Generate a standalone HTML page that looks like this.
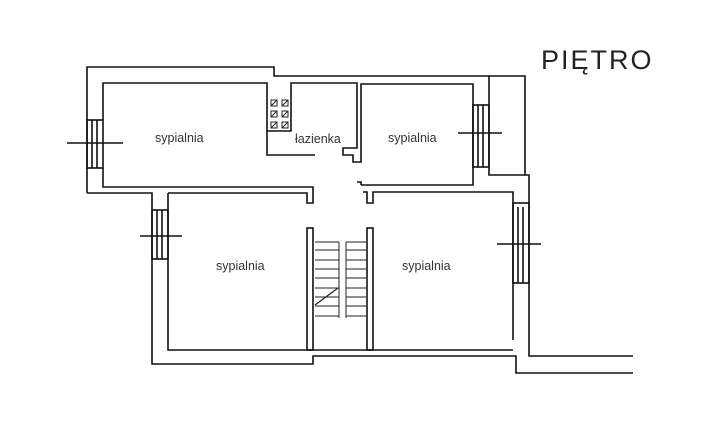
<!DOCTYPE html>
<html><head><meta charset="utf-8"><style>
html,body{margin:0;padding:0;background:#fff}
svg{display:block}
text{font-family:"Liberation Sans",sans-serif}
</style></head><body>
<svg width="710" height="424" viewBox="0 0 710 424" xmlns="http://www.w3.org/2000/svg">
<g fill="none" stroke="#111" stroke-width="1.6" stroke-linejoin="miter">
<polyline points="87,193 87,67 274,67 274,76 489,76 489,175 529,175 529,356 633,356"/>
<polyline points="489,76 525,76 525,175"/>
<polyline points="103,120 103,83 267,83 267,131 291,131 291,83 357,83 357,148 343,148 343,155 353,155 353,162 361,162 361,84 473,84 473,185 361,185"/>
<polyline points="357,182 361,182 361,185"/>
<polyline points="103,168 103,187 313,187 313,203 307,203 307,193 168,193"/>
<polyline points="87,193 152,193 152,364 313,364 313,356 516,356 516,373 633,373"/>
<polyline points="168,193 168,350 513,350"/>
<polyline points="513,340 513,192 373,192 373,203 367,203 367,192 363,192"/>
<polyline points="267,131 267,155 315,155"/>
<rect x="307" y="228" width="6" height="122"/>
<rect x="367" y="228" width="6" height="122"/>
<rect x="87" y="120" width="16" height="48"/>
<line x1="92" y1="120" x2="92" y2="168"/><line x1="97" y1="120" x2="97" y2="168"/>
<line x1="67" y1="143" x2="123" y2="143"/>
<rect x="152" y="210" width="16" height="49"/>
<line x1="157" y1="210" x2="157" y2="259"/><line x1="162" y1="210" x2="162" y2="259"/>
<line x1="140" y1="236" x2="182" y2="236"/>
<rect x="473" y="105" width="16" height="62"/>
<line x1="478" y1="105" x2="478" y2="167"/><line x1="483" y1="105" x2="483" y2="167"/>
<line x1="458" y1="133" x2="502" y2="133"/>
<rect x="513" y="203" width="16" height="80"/>
<line x1="518" y1="207" x2="518" y2="283"/><line x1="523" y1="207" x2="523" y2="283"/>
<line x1="497" y1="244" x2="541" y2="244"/>
</g>
<g stroke="#222" stroke-width="1" fill="none">
<line x1="339" y1="242" x2="339" y2="318"/><line x1="346" y1="242" x2="346" y2="318"/>
<line x1="315" y1="242" x2="339" y2="242"/><line x1="346" y1="242" x2="366" y2="242"/>
<line x1="315" y1="250" x2="339" y2="250"/><line x1="346" y1="250" x2="366" y2="250"/>
<line x1="315" y1="260" x2="339" y2="260"/><line x1="346" y1="260" x2="366" y2="260"/>
<line x1="315" y1="269" x2="339" y2="269"/><line x1="346" y1="269" x2="366" y2="269"/>
<line x1="315" y1="278" x2="339" y2="278"/><line x1="346" y1="278" x2="366" y2="278"/>
<line x1="315" y1="288" x2="339" y2="288"/><line x1="346" y1="288" x2="366" y2="288"/>
<line x1="315" y1="297" x2="339" y2="297"/><line x1="346" y1="297" x2="366" y2="297"/>
<line x1="315" y1="306" x2="339" y2="306"/><line x1="346" y1="306" x2="366" y2="306"/>
<line x1="315" y1="316" x2="339" y2="316"/><line x1="346" y1="316" x2="366" y2="316"/>
<line x1="315" y1="305" x2="338" y2="288" stroke-width="1.3"/>
<rect x="271" y="100" width="6" height="6"/><rect x="282" y="100" width="6" height="6"/>
<rect x="271" y="111" width="6" height="6"/><rect x="282" y="111" width="6" height="6"/>
<rect x="271" y="122" width="6" height="6"/><rect x="282" y="122" width="6" height="6"/>
<line x1="271" y1="106" x2="277" y2="100"/><line x1="282" y1="106" x2="288" y2="100"/>
<line x1="271" y1="117" x2="277" y2="111"/><line x1="282" y1="117" x2="288" y2="111"/>
<line x1="271" y1="128" x2="277" y2="122"/><line x1="282" y1="128" x2="288" y2="122"/>
</g>
<g fill="#333" font-size="12.5">
<text x="155" y="142">sypialnia</text>
<text x="295" y="143">łazienka</text>
<text x="388" y="142">sypialnia</text>
<text x="216" y="270">sypialnia</text>
<text x="402" y="270">sypialnia</text>
</g>
<text x="541" y="69" font-size="27" fill="#222" letter-spacing="2">PIĘTRO</text>
</svg>
</body></html>
